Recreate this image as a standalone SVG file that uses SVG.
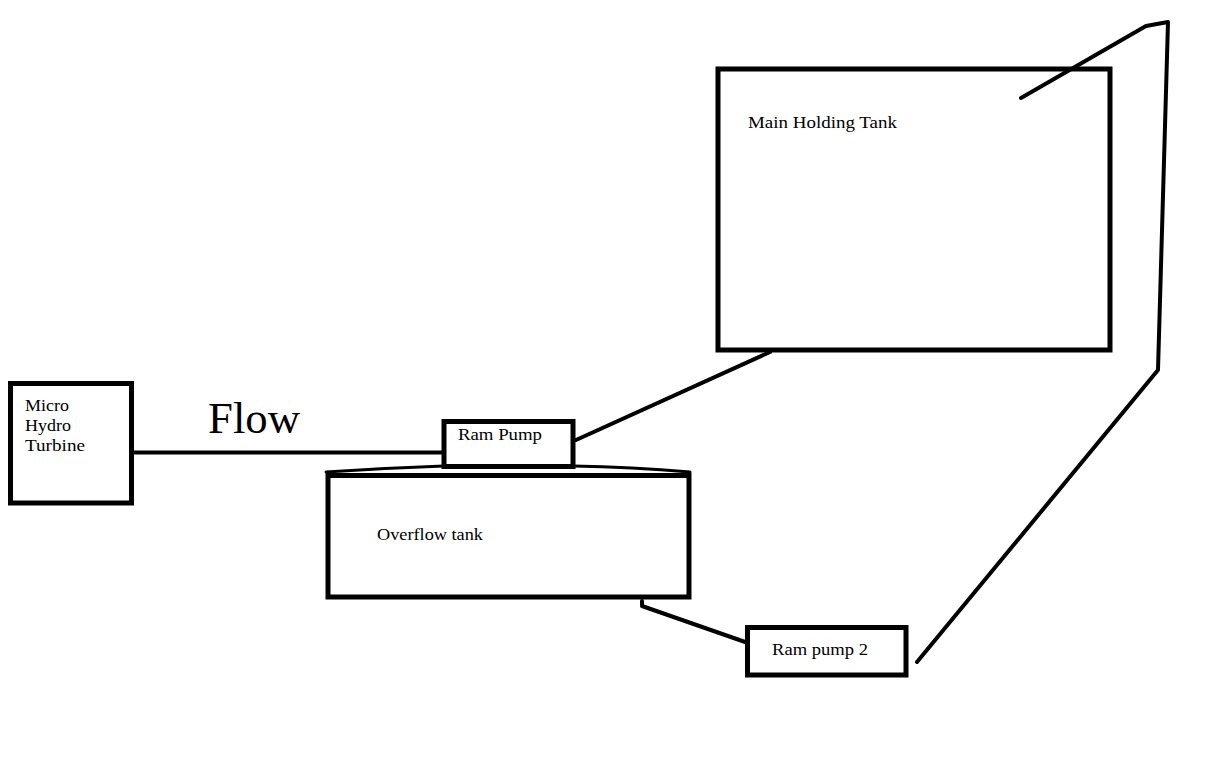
<svg xmlns="http://www.w3.org/2000/svg" width="1205" height="771" viewBox="0 0 1205 771">
<style>
.box{fill:none;stroke:#000;stroke-width:5}
.ln{fill:none;stroke:#000;stroke-width:4;stroke-linejoin:round;stroke-linecap:round}
.t{font-family:"Liberation Serif","Times New Roman",serif;font-size:17px;fill:#000}
</style>
<rect width="1205" height="771" fill="#fff"/>
<g id="connectors">
<path class="ln" d="M134 452.5 H443"/>
<path class="ln" d="M576 440 L770 352"/>
<path class="ln" d="M642 601 V606 L748 643"/>
<path class="ln" d="M917 662 L1158 370 L1168 22 L1146 26 L1021 98"/>
<path class="ln" style="stroke-width:3" d="M326 472 Q385 468 444 466 M573 466 Q632 467 690 472"/>
</g>
<g id="turbine">
<rect class="box" x="10.5" y="383.5" width="121" height="119.5"/>
<text class="t" x="25" y="411" textLength="44" lengthAdjust="spacingAndGlyphs">Micro</text>
<text class="t" x="25" y="431" textLength="46" lengthAdjust="spacingAndGlyphs">Hydro</text>
<text class="t" x="25" y="451" textLength="60" lengthAdjust="spacingAndGlyphs">Turbine</text>
</g>
<g id="flow-label">
<text x="208" y="433" style="font-family:'Liberation Serif',serif;font-size:45px" textLength="92" lengthAdjust="spacingAndGlyphs">Flow</text>
</g>
<g id="ram-pump">
<rect class="box" x="444" y="421.5" width="129" height="45"/>
<text class="t" x="458" y="440" textLength="84" lengthAdjust="spacingAndGlyphs">Ram Pump</text>
</g>
<g id="overflow-tank">
<rect class="box" x="328" y="475.5" width="361" height="121.5"/>
<text class="t" x="377" y="540" textLength="106" lengthAdjust="spacingAndGlyphs">Overflow tank</text>
</g>
<g id="ram-pump-2">
<rect class="box" x="747.5" y="627.5" width="158.5" height="47.5"/>
<text class="t" x="772" y="655" textLength="96" lengthAdjust="spacingAndGlyphs">Ram pump 2</text>
</g>
<g id="main-tank">
<rect class="box" x="718" y="69" width="392" height="281"/>
<text class="t" x="748" y="128" textLength="149" lengthAdjust="spacingAndGlyphs">Main Holding Tank</text>
</g>
</svg>
